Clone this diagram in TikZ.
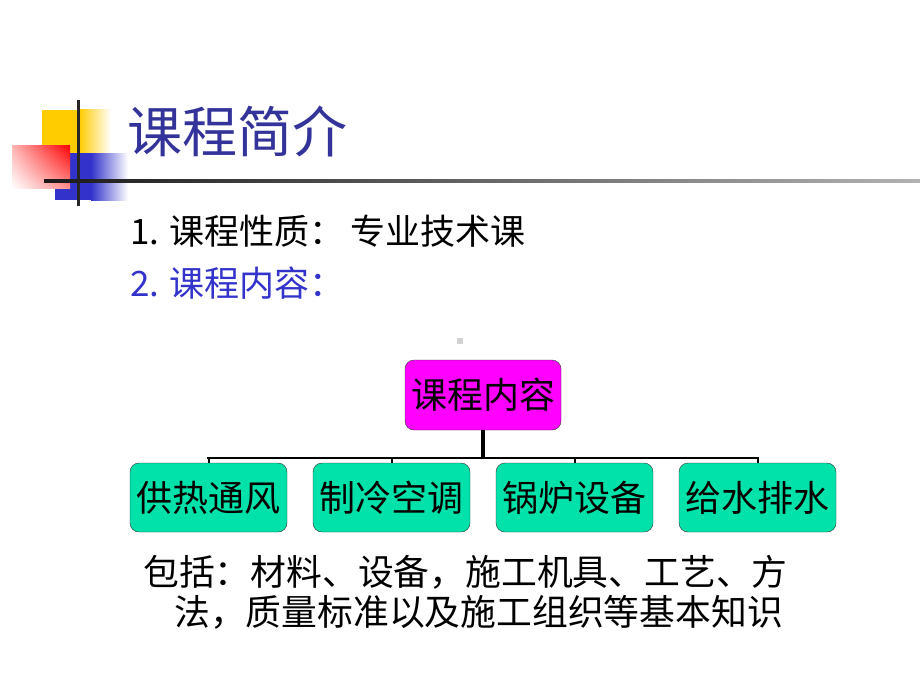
\documentclass[tikz,border=0pt]{standalone}
\usepackage{fontspec}
\setmainfont{Noto Sans CJK SC}
\usetikzlibrary{shadings}
\begin{document}
\begin{tikzpicture}[
	x=1pt, y=-1pt,
	titletext/.style={anchor=west, inner sep=0pt, text=titleblue, font=\fontsize{55}{60}\selectfont},
	linetext/.style={anchor=west, inner sep=0pt, font=\fontsize{35}{40}\selectfont},
	topbox/.style={draw=black!80, thin, fill=boxpink, rounded corners=9pt, minimum width=156pt, minimum height=70pt, inner sep=0pt, font=\fontsize{36}{40}\selectfont},
	subbox/.style={draw=black!80, thin, fill=boxgreen, rounded corners=9pt, minimum width=157pt, minimum height=69pt, inner sep=0pt, font=\fontsize{36}{40}\selectfont},
	trunk/.style={line width=3.2pt},
	bar/.style={line width=2.6pt, line cap=rect},
	drop/.style={line width=2pt}
	]
		\definecolor{titleblue}{RGB}{51, 51, 153}
		\definecolor{itemblue}{RGB}{51, 51, 204}
		\definecolor{boxpink}{RGB}{255, 0, 255}
		\definecolor{boxgreen}{RGB}{0, 226, 170}
		\definecolor{deco yellow}{RGB}{255, 204, 0}
		\definecolor{deco blue}{RGB}{51, 51, 204}

	\useasboundingbox (0, 0) rectangle (920, 690);

	% corner decoration
	\fill [deco yellow] (42, 110) rectangle (79, 153);
	\shade [left color=deco yellow, right color=white] (79, 110) rectangle (111, 153);
	\fill [deco blue] (55, 153) rectangle (91, 200);
	\shade [left color=deco blue, right color=white] (91, 153) rectangle (128, 200);
	\shade [upper right=red, upper left=red!30!white, lower right=red!45!white, lower left=white] (12, 145) rectangle (70, 188);
	\fill [black!85] (77, 100) rectangle (80, 206);
	\shade [left color=black!90, right color=black!30] (44, 179) rectangle (920, 182);

	% title
	\node [titletext] (title) at (127, 131) {课程简介};

	% items
	\node [linetext] (item1) at (130, 231) {1. 课程性质：\hspace{6pt}专业技术课};
	\node [linetext, text=itemblue] (item2) at (130, 283) {2. 课程内容：};

	% stray mark
	\fill [black!18] (457, 338) rectangle (463, 344);

	% chart
	\node [topbox] (content) at (483, 395) {课程内容};
	\node [subbox] (heat) at (208.5, 497.5) {供热通风};
	\node [subbox] (cool) at (391.5, 497.5) {制冷空调};
	\node [subbox] (boiler) at (574.5, 497.5) {锅炉设备};
	\node [subbox] (water) at (757.5, 497.5) {给水排水};

	\coordinate (bus) at (483, 458);
	\draw [trunk] (content.south) -- (bus);
	\draw [bar] (heat.north |- bus) -- (water.north |- bus);
	\foreach \b in {heat, cool, boiler, water}
		\draw [drop] (\b.north) -- (\b.north |- bus);

	% note
	\node [linetext, font=\fontsize{35.8}{40}\selectfont] (note1) at (143, 572) {包括：材料、设备，施工机具、工艺、方};
	\node [linetext, font=\fontsize{35.8}{40}\selectfont] (note2) at (174, 612) {法，质量标准以及施工组织等基本知识};
\end{tikzpicture}
\end{document}
